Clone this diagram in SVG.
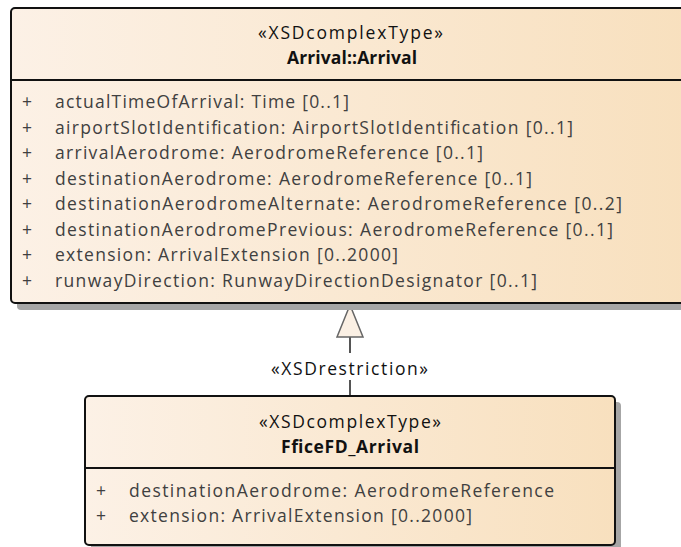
<svg xmlns="http://www.w3.org/2000/svg" width="681" height="547" viewBox="0 0 681 547">
<defs>
<linearGradient id="g1" gradientUnits="objectBoundingBox" x1="0" y1="0" x2="1" y2="0">
<stop offset="0" stop-color="#FCF1E6"/>
<stop offset="1" stop-color="#F8E0BE"/>
</linearGradient>
<style>
.box{fill:url(#g1);stroke:#111;stroke-width:2}
.sh{fill:#A6A6A6}
.div{stroke:#111;stroke-width:2}
.st{font-family:"Open Sans","Liberation Sans",sans-serif;font-size:17.5px;fill:#111}
.nm{font-family:"Open Sans","Liberation Sans",sans-serif;font-size:17.5px;font-weight:bold;fill:#111}
.at{font-family:"Open Sans","Liberation Sans",sans-serif;font-size:17.5px;fill:#404040}
.con{stroke:#555;stroke-width:2;fill:none}
</style>
</defs>
<g id="connectors">
<line class="con" x1="350" y1="337" x2="350" y2="353"/>
<line class="con" x1="350" y1="380" x2="350" y2="396"/>
<polygon points="350,305 337,337 363,337" fill="#FBF0E4" stroke="#666" stroke-width="1.5"/>
<text class="st" x="271" y="375" textLength="157" lengthAdjust="spacing">«XSDrestriction»</text>
</g>
<g id="Arrival">
<rect class="sh" x="17" y="14" width="678" height="296" rx="4"/>
<rect class="box" x="11" y="8" width="678" height="295" rx="4"/>
<line class="div" x1="11" y1="80" x2="689" y2="80"/>
<text class="st" x="258" y="39" textLength="185" lengthAdjust="spacing">«XSDcomplexType»</text>
<text class="nm" x="287" y="64" textLength="130" lengthAdjust="spacing">Arrival::Arrival</text>
<g class="at">
<text x="22" y="108">+</text><text x="55" y="108" textLength="294" lengthAdjust="spacing">actualTimeOfArrival: Time [0..1]</text>
<text x="22" y="133.5">+</text><text x="55" y="133.5" textLength="518" lengthAdjust="spacing">airportSlotIdentification: AirportSlotIdentification [0..1]</text>
<text x="22" y="159">+</text><text x="55" y="159" textLength="428" lengthAdjust="spacing">arrivalAerodrome: AerodromeReference [0..1]</text>
<text x="22" y="184.5">+</text><text x="55" y="184.5" textLength="477" lengthAdjust="spacing">destinationAerodrome: AerodromeReference [0..1]</text>
<text x="22" y="210">+</text><text x="55" y="210" textLength="567" lengthAdjust="spacing">destinationAerodromeAlternate: AerodromeReference [0..2]</text>
<text x="22" y="235.5">+</text><text x="55" y="235.5" textLength="558" lengthAdjust="spacing">destinationAerodromePrevious: AerodromeReference [0..1]</text>
<text x="22" y="261">+</text><text x="55" y="261" textLength="343" lengthAdjust="spacing">extension: ArrivalExtension [0..2000]</text>
<text x="22" y="286.5">+</text><text x="55" y="286.5" textLength="482" lengthAdjust="spacing">runwayDirection: RunwayDirectionDesignator [0..1]</text>
</g>
</g>
<g id="FficeFD_Arrival">
<rect class="sh" x="91" y="402" width="530" height="150" rx="4"/>
<rect class="box" x="85" y="396" width="530" height="149" rx="4"/>
<line class="div" x1="85" y1="468" x2="615" y2="468"/>
<text class="st" x="259" y="428" textLength="182" lengthAdjust="spacing">«XSDcomplexType»</text>
<text class="nm" x="281" y="453" textLength="138" lengthAdjust="spacing">FficeFD_Arrival</text>
<g class="at">
<text x="96" y="497">+</text><text x="129" y="497" textLength="425" lengthAdjust="spacing">destinationAerodrome: AerodromeReference</text>
<text x="96" y="522">+</text><text x="129" y="522" textLength="343" lengthAdjust="spacing">extension: ArrivalExtension [0..2000]</text>
</g>
</g>
</svg>
